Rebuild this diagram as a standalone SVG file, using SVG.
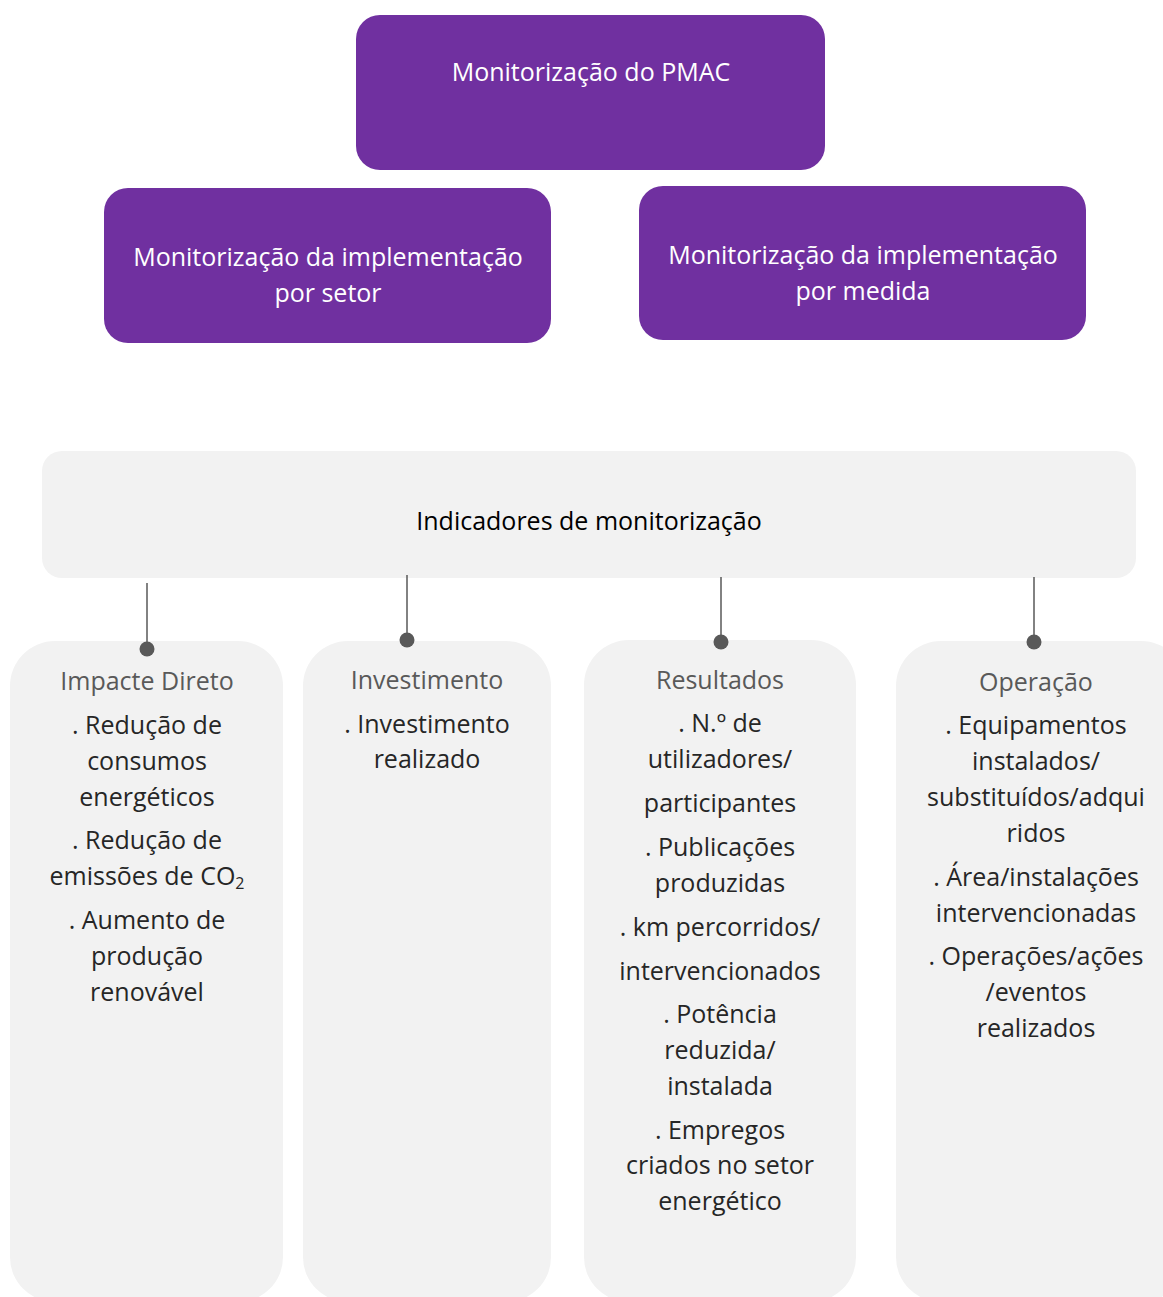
<svg xmlns="http://www.w3.org/2000/svg" width="1163" height="1297" viewBox="0 0 1163 1297">
<style>
.purple{fill:#7030A0;}
.grey{fill:#F2F2F2;}
.wt{font-family:"Open Sans","Noto Sans",sans-serif;font-size:25px;fill:#FFFFFF;text-anchor:middle;}
.hd{font-family:"Open Sans","Noto Sans",sans-serif;font-size:25px;fill:#000000;text-anchor:middle;}
.ch{font-family:"Open Sans","Noto Sans",sans-serif;font-size:25px;fill:#595959;text-anchor:middle;}
.bt{font-family:"Open Sans","Noto Sans",sans-serif;font-size:25px;fill:#262626;text-anchor:middle;}
.ln{stroke:#595959;stroke-width:1.5;fill:none;}
.dot{fill:#595959;}
</style>
<rect width="1163" height="1297" fill="#FFFFFF"/>
<g id="node-pmac">
<rect class="purple" x="356" y="15" width="469" height="155" rx="24"/>
<text class="wt" x="591" y="81">Monitorização do PMAC</text>
</g>
<g id="node-setor">
<rect class="purple" x="104" y="188" width="447" height="155" rx="24"/>
<text class="wt" x="328" y="266">Monitorização da implementação</text>
<text class="wt" x="328" y="302">por setor</text>
</g>
<g id="node-medida">
<rect class="purple" x="639" y="186" width="447" height="154" rx="24"/>
<text class="wt" x="863" y="264">Monitorização da implementação</text>
<text class="wt" x="863" y="300">por medida</text>
</g>
<g id="node-indicadores">
<rect class="grey" x="42" y="451" width="1094" height="127" rx="20"/>
<text class="hd" x="589" y="530">Indicadores de monitorização</text>
</g>
<g id="node-impacte">
<rect class="grey" x="10" y="641" width="273" height="661" rx="45"/>
<text class="ch" x="147" y="690">Impacte Direto</text>
<text class="bt" x="147" y="734">. Redução de</text>
<text class="bt" x="147" y="770">consumos</text>
<text class="bt" x="147" y="806">energéticos</text>
<text class="bt" x="147" y="849">. Redução de</text>
<text class="bt" x="147" y="885">emissões de CO<tspan font-size="16" dy="4">2</tspan></text>
<text class="bt" x="147" y="929">. Aumento de</text>
<text class="bt" x="147" y="965">produção</text>
<text class="bt" x="147" y="1001">renovável</text>
</g>
<g id="node-investimento">
<rect class="grey" x="303" y="641" width="248" height="661" rx="45"/>
<text class="ch" x="427" y="689">Investimento</text>
<text class="bt" x="427" y="733">. Investimento</text>
<text class="bt" x="427" y="768">realizado</text>
</g>
<g id="node-resultados">
<rect class="grey" x="584" y="640" width="272" height="662" rx="45"/>
<text class="ch" x="720" y="689">Resultados</text>
<text class="bt" x="720" y="732">. N.º de</text>
<text class="bt" x="720" y="768">utilizadores/</text>
<text class="bt" x="720" y="812">participantes</text>
<text class="bt" x="720" y="856">. Publicações</text>
<text class="bt" x="720" y="892">produzidas</text>
<text class="bt" x="720" y="936">. km percorridos/</text>
<text class="bt" x="720" y="980">intervencionados</text>
<text class="bt" x="720" y="1023">. Potência</text>
<text class="bt" x="720" y="1059">reduzida/</text>
<text class="bt" x="720" y="1095">instalada</text>
<text class="bt" x="720" y="1139">. Empregos</text>
<text class="bt" x="720" y="1174">criados no setor</text>
<text class="bt" x="720" y="1210">energético</text>
</g>
<g id="node-operacao">
<rect class="grey" x="896" y="641" width="290" height="661" rx="45"/>
<text class="ch" x="1036" y="691">Operação</text>
<text class="bt" x="1036" y="734">. Equipamentos</text>
<text class="bt" x="1036" y="770">instalados/</text>
<text class="bt" x="1036" y="806">substituídos/adqui</text>
<text class="bt" x="1036" y="842">ridos</text>
<text class="bt" x="1036" y="886">. Área/instalações</text>
<text class="bt" x="1036" y="922">intervencionadas</text>
<text class="bt" x="1036" y="965">. Operações/ações</text>
<text class="bt" x="1036" y="1001">/eventos</text>
<text class="bt" x="1036" y="1037">realizados</text>
</g>
<g id="connectors">
<line class="ln" x1="147" y1="583" x2="147" y2="649"/>
<circle class="dot" cx="147" cy="649" r="7.5"/>
<line class="ln" x1="407" y1="575" x2="407" y2="640"/>
<circle class="dot" cx="407" cy="640" r="7.5"/>
<line class="ln" x1="721" y1="577" x2="721" y2="642"/>
<circle class="dot" cx="721" cy="642" r="7.5"/>
<line class="ln" x1="1034" y1="577" x2="1034" y2="642"/>
<circle class="dot" cx="1034" cy="642" r="7.5"/>
</g>
</svg>
